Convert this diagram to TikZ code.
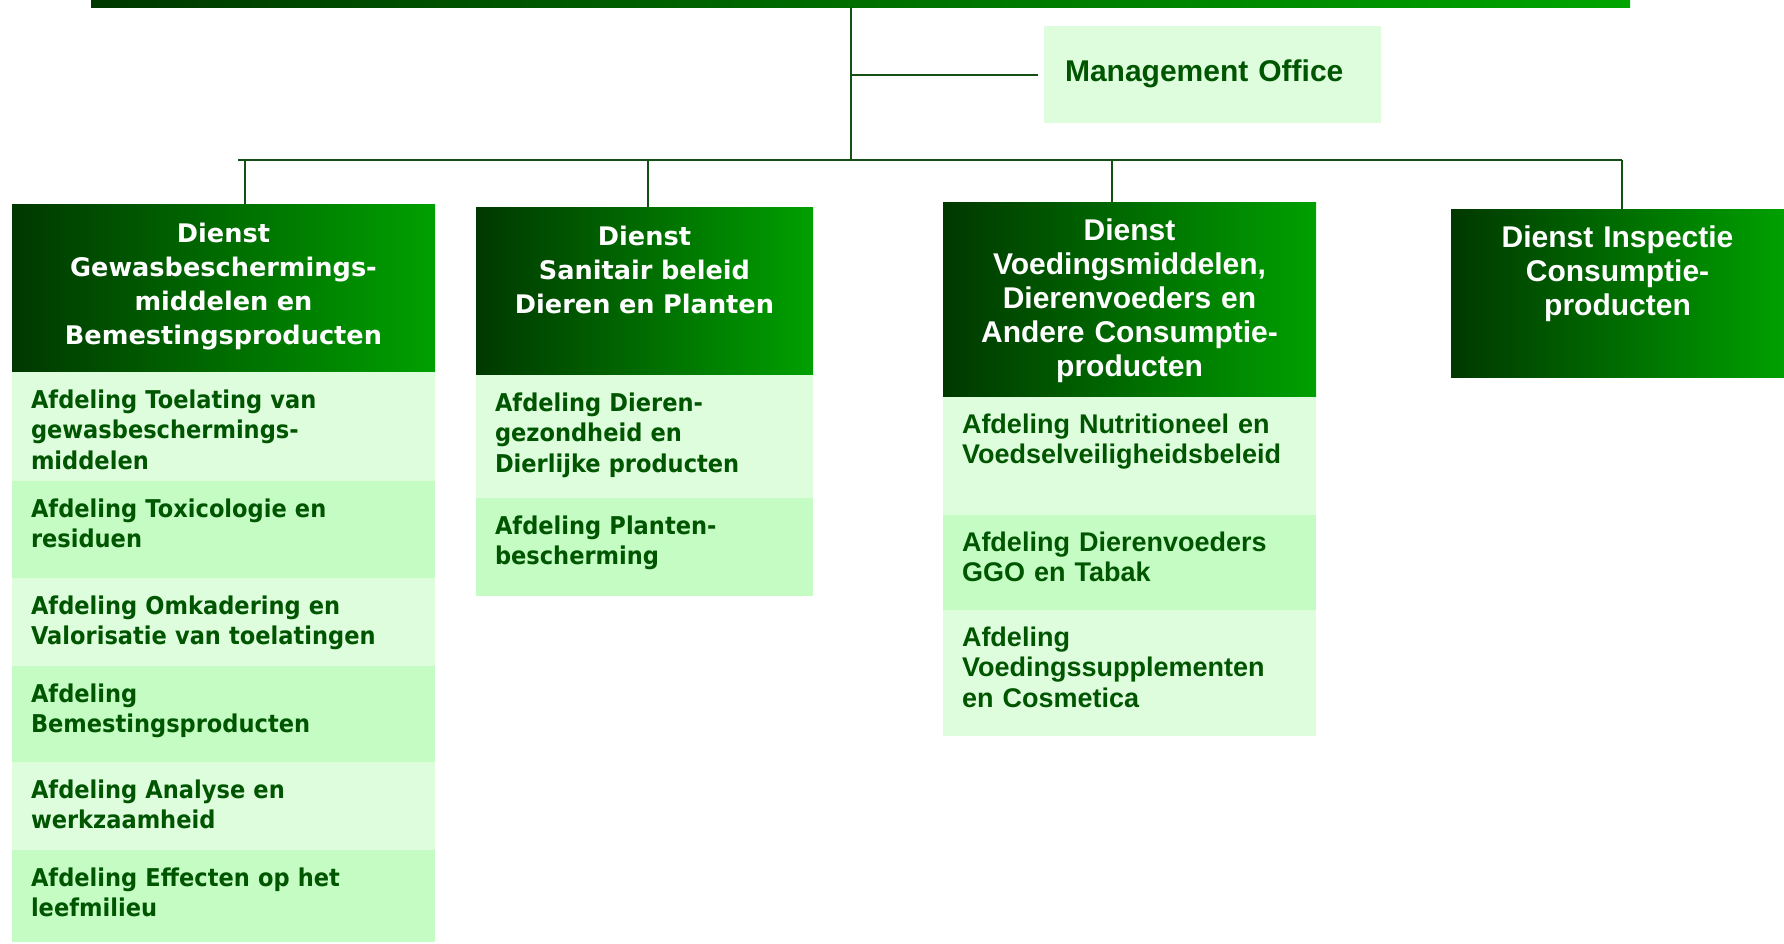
\documentclass[tikz,border=0pt]{standalone}
\usepackage{fontspec}
\setmainfont{DejaVu Sans}
\newfontfamily\verdsub[FakeStretch=0.92]{DejaVu Sans}
\newfontfamily\arialish{Liberation Sans}
\usetikzlibrary{positioning}

\definecolor{bardark}{RGB}{0,56,0}
\definecolor{barlight}{RGB}{0,165,0}
\definecolor{hdark}{RGB}{0,56,0}
\definecolor{hlight}{RGB}{0,160,0}
\definecolor{palegreen}{RGB}{221,253,221}
\definecolor{softgreen}{RGB}{196,252,196}
\definecolor{txtgreen}{RGB}{0,85,0}
\definecolor{linegreen}{RGB}{20,80,20}

\begin{document}
\begin{tikzpicture}[x=1pt,y=-1pt,
    every node/.style={outer sep=0pt},
    hdr/.style={inner ysep=0pt,inner xsep=8pt,align=center,text=white,left color=hdark,right color=hlight,text height=38pt},
    vfont/.style={font=\fontsize{25.6}{34}\selectfont\bfseries},
    afont/.style={font=\arialish\fontsize{30}{34}\selectfont\bfseries},
    sub/.style={inner ysep=0pt,inner xsep=19pt,align=left,text=txtgreen,text height=36pt},
    subv/.style={sub,font=\verdsub\fontsize{24.5}{30.7}\selectfont\bfseries},
    suba/.style={sub,font=\arialish\fontsize{27}{30.7}\selectfont\bfseries},
    light/.style={fill=palegreen},
    mid/.style={fill=softgreen},
    link/.style={draw=linegreen,line width=2pt}]

                \useasboundingbox (0,0) rectangle (1784,943);

                \node[inner sep=0pt,minimum width=1539,minimum height=7,left color=bardark,right color=barlight,anchor=north west] (topbar) at (91,0) {};

                \node[light,afont,text=txtgreen,align=left,inner ysep=0pt,inner xsep=21pt,text width=295pt,text height=55pt,text depth=42pt,anchor=north west] (mo) at (1044,26) {Management Office};

                \node[hdr,vfont,text width=407pt,text depth=130pt,anchor=north west] (d1) at (12,204) {Dienst\\Gewasbeschermings-\\middelen en\\Bemestingsproducten};
                \node[subv,light,text width=385pt,text depth=73pt] (g1) [below=0pt of d1] {Afdeling Toelating van\\gewasbeschermings-\\middelen};
                \node[subv,mid,text width=385pt,text depth=61pt] (g2) [below=0pt of g1] {Afdeling Toxicologie en\\residuen};
                \node[subv,light,text width=385pt,text depth=52pt] (g3) [below=0pt of g2] {Afdeling Omkadering en\\Valorisatie van toelatingen};
                \node[subv,mid,text width=385pt,text depth=60pt] (g4) [below=0pt of g3] {Afdeling\\Bemestingsproducten};
                \node[subv,light,text width=385pt,text depth=52pt] (g5) [below=0pt of g4] {Afdeling Analyse en\\werkzaamheid};
                \node[subv,mid,text width=385pt,text depth=56pt] (g6) [below=0pt of g5] {Afdeling Effecten op het\\leefmilieu};

                \node[hdr,vfont,text width=321pt,text depth=130pt,anchor=north west] (d2) at (476,207) {Dienst\\Sanitair beleid\\Dieren en Planten};
                \node[subv,light,text width=299pt,text depth=87pt] (s1) [below=0pt of d2] {Afdeling Dieren-\\gezondheid en\\Dierlijke producten};
                \node[subv,mid,text width=299pt,text depth=62pt] (s2) [below=0pt of s1] {Afdeling Planten-\\bescherming};

                \node[hdr,afont,text width=357pt,text depth=157pt,anchor=north west] (d3) at (943,202) {Dienst\\Voedingsmiddelen,\\Dierenvoeders en\\Andere Consumptie-\\producten};
                \node[suba,light,text width=335pt,text depth=82pt] (v1) [below=0pt of d3] {Afdeling Nutritioneel en\\Voedselveiligheidsbeleid};
                \node[suba,mid,text width=335pt,text depth=59pt] (v2) [below=0pt of v1] {Afdeling Dierenvoeders\\GGO en Tabak};
                \node[suba,light,text width=335pt,text depth=90pt] (v3) [below=0pt of v2] {Afdeling\\Voedingssupplementen\\en Cosmetica};

                \node[hdr,afont,text width=317pt,text depth=130pt,anchor=north west] (d4) at (1451,209) {Dienst Inspectie\\Consumptie-\\producten};

                \coordinate (trunk) at (851,160);
                \coordinate (busl) at (238,160);
                \coordinate (busr) at (1622,160);
                \coordinate (b1) at (245,160);
                \coordinate (b2) at (648,160);
                \coordinate (b3) at (1112,160);

                \draw[link] (trunk |- topbar.south) -- (trunk);
                \draw[link,shorten >=6pt] (trunk |- mo.west) -- (mo.west);
                \draw[link] (busl) -- (busr);
                \draw[link] (b1) -- (b1 |- d1.north);
                \draw[link] (b2) -- (b2 |- d2.north);
                \draw[link] (b3) -- (b3 |- d3.north);
                \draw[link] (busr) -- (busr |- d4.north);

            \end{tikzpicture}
\end{document}
